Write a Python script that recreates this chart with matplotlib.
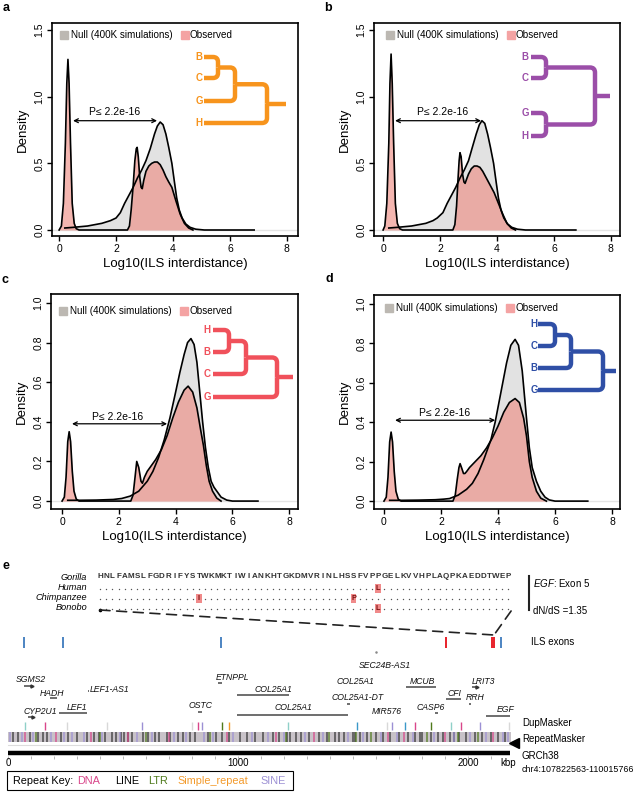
import numpy as np
import matplotlib.pyplot as plt
import matplotlib.transforms as mtransforms
from matplotlib.lines import Line2D
from matplotlib.path import Path
from matplotlib.patches import Rectangle, ConnectionPatch, PathPatch

plt.rcParams['font.family'] = ['Liberation Sans', 'DejaVu Sans']
plt.rcParams['mathtext.fontset'] = 'custom'
plt.rcParams['mathtext.it'] = 'Liberation Sans:italic'
plt.rcParams['mathtext.rm'] = 'Liberation Sans'

# ---------------- density curves ----------------
a_null_x = [0.2, 0.5, 1.0, 1.5, 1.8, 2.0, 2.15, 2.3, 2.45, 2.6, 2.75, 2.9, 3.05, 3.2, 3.35, 3.45, 3.55,
            3.65, 3.75, 3.85, 3.96, 4.05, 4.13, 4.22, 4.32, 4.45, 4.6, 4.8, 5.1, 6.85]
a_null_y = [0.015, 0.02, 0.03, 0.05, 0.07, 0.09, 0.13, 0.2, 0.26, 0.32, 0.39, 0.45, 0.52, 0.61, 0.72, 0.78, 0.81,
            0.79, 0.72, 0.62, 0.5, 0.36, 0.24, 0.15, 0.09, 0.045, 0.02, 0.006, 0.0, 0.0]
a_obs_x = [0.0, 0.08, 0.15, 0.22, 0.27, 0.31, 0.35, 0.4, 0.46, 0.53, 0.6, 0.7, 2.4, 2.47, 2.53, 2.6, 2.66,
           2.71, 2.74, 2.78, 2.83, 2.88, 2.92, 2.97, 3.05, 3.15, 3.25, 3.35, 3.45, 3.55, 3.65, 3.75, 3.85,
           3.96, 4.1, 4.25, 4.4, 4.55, 4.7]
a_obs_y = [0.0, 0.03, 0.2, 0.65, 1.1, 1.28, 1.1, 0.65, 0.2, 0.05, 0.01, 0.0, 0.0, 0.03, 0.15, 0.33, 0.52,
           0.61, 0.62, 0.55, 0.4, 0.32, 0.31, 0.37, 0.44, 0.48, 0.5, 0.51, 0.51, 0.49, 0.45, 0.4, 0.36,
           0.32, 0.22, 0.12, 0.05, 0.015, 0.0]

b_null_x = [0.2, 0.5, 1.0, 1.5, 1.75, 1.9, 2.1, 2.25, 2.4, 2.55, 2.7, 2.85, 3.0, 3.12, 3.27, 3.38, 3.47,
            3.57, 3.67, 3.77, 3.88, 3.97, 4.05, 4.14, 4.24, 4.37, 4.52, 4.72, 5.0, 6.77]
b_null_y = [0.015, 0.02, 0.03, 0.05, 0.07, 0.09, 0.13, 0.2, 0.26, 0.32, 0.39, 0.45, 0.52, 0.61, 0.72, 0.79, 0.82,
            0.8, 0.72, 0.62, 0.5, 0.36, 0.24, 0.15, 0.09, 0.045, 0.02, 0.006, 0.0, 0.0]
b_obs_x = [0.0, 0.06, 0.13, 0.2, 0.24, 0.28, 0.32, 0.37, 0.43, 0.5, 0.58, 0.68, 2.45, 2.52, 2.58, 2.63, 2.67,
           2.7, 2.74, 2.79, 2.84, 2.88, 2.93, 3.0, 3.1, 3.2, 3.3, 3.4, 3.5, 3.6, 3.7, 3.8, 3.9, 4.05,
           4.2, 4.35, 4.5, 4.65]
b_obs_y = [0.0, 0.03, 0.2, 0.65, 1.1, 1.32, 1.1, 0.65, 0.2, 0.05, 0.01, 0.0, 0.0, 0.04, 0.18, 0.38, 0.52,
           0.58, 0.55, 0.42, 0.36, 0.35, 0.38, 0.42, 0.46, 0.48, 0.48, 0.47, 0.44, 0.4, 0.36, 0.32, 0.28, 0.2,
           0.12, 0.05, 0.015, 0.0]

c_null_x = [0.2, 0.6, 1.2, 1.8, 2.1, 2.4, 2.7, 3.0, 3.2, 3.4, 3.6, 3.8, 4.0, 4.15, 4.3, 4.42, 4.54, 4.65,
            4.75, 4.85, 4.95, 5.05, 5.15, 5.25, 5.35, 5.45, 5.6, 5.8, 6.0, 6.9]
c_null_y = [0.004, 0.004, 0.005, 0.008, 0.013, 0.025, 0.05, 0.1, 0.15, 0.22, 0.31, 0.42, 0.55, 0.65, 0.74, 0.8,
            0.82, 0.79, 0.7, 0.55, 0.4, 0.27, 0.17, 0.1, 0.07, 0.05, 0.02, 0.005, 0.0, 0.0]
c_obs_x = [0.0, 0.08, 0.14, 0.2, 0.25, 0.3, 0.36, 0.42, 0.5, 0.6, 2.42, 2.5, 2.57, 2.63, 2.7, 2.78, 2.83,
           2.9, 3.0, 3.1, 3.3, 3.5, 3.7, 3.9, 4.1, 4.3, 4.44, 4.6, 4.75, 4.88, 4.98, 5.08, 5.18, 5.3,
           5.45, 5.6]
c_obs_y = [0.0, 0.02, 0.12, 0.3, 0.35, 0.3, 0.15, 0.05, 0.01, 0.0, 0.0, 0.03, 0.12, 0.2, 0.17, 0.1, 0.09,
           0.12, 0.15, 0.17, 0.21, 0.26, 0.33, 0.42, 0.5, 0.56, 0.58, 0.55, 0.47, 0.36, 0.28, 0.18, 0.1, 0.05,
           0.015, 0.0]

d_null_x = [0.2, 0.6, 1.2, 1.8, 2.1, 2.3, 2.6, 2.9, 3.1, 3.3, 3.5, 3.75, 3.9, 4.1, 4.3, 4.45, 4.6, 4.72,
            4.85, 5.0, 5.1, 5.2, 5.35, 5.5, 5.65, 5.8, 6.0, 7.15]
d_null_y = [0.004, 0.004, 0.005, 0.007, 0.01, 0.013, 0.03, 0.06, 0.09, 0.14, 0.21, 0.31, 0.4, 0.55, 0.7, 0.79,
            0.82, 0.79, 0.66, 0.42, 0.27, 0.17, 0.1, 0.05, 0.02, 0.006, 0.0, 0.0]
d_obs_x = [0.0, 0.08, 0.14, 0.2, 0.25, 0.3, 0.36, 0.42, 0.5, 0.6, 2.42, 2.5, 2.57, 2.63, 2.67, 2.72, 2.79,
           2.84, 2.9, 3.0, 3.2, 3.4, 3.6, 3.8, 4.0, 4.2, 4.4, 4.6, 4.75, 4.9, 5.0, 5.1, 5.2, 5.35, 5.5, 5.7]
d_obs_y = [0.0, 0.02, 0.12, 0.3, 0.35, 0.3, 0.15, 0.05, 0.01, 0.0, 0.0, 0.03, 0.11, 0.17, 0.19, 0.17, 0.14,
           0.14, 0.15, 0.17, 0.2, 0.23, 0.27, 0.32, 0.38, 0.45, 0.5, 0.52, 0.5, 0.42, 0.33, 0.2, 0.12, 0.05,
           0.015, 0.0]

# P-value arrows: (x start, x end, y)
a_arrow = (0.49, 3.44, 0.82)
b_arrow = (0.42, 3.44, 0.82)
c_arrow = (0.35, 3.7, 0.39)
d_arrow = (0.39, 3.9, 0.41)
p_label = "P\u2264 2.2e-16"

# trees (leaf order / topology)
a_tree = ((("B", "C", 218), "G", 235), "H", 267)
b_tree = (("B", "C", 546), ("G", "H", 546), 595)
c_tree = ((("H", "B", 229), "C", 246), "G", 277)
d_tree = ((("H", "C", 555), "B", 571), "G", 603)

# ---------------- panel e data ----------------
seq = "HNLFAMSLFGDRIFYSTWKMKTIWIANKHTGKDMVRINLHSSFVPPGELKVVHPLAQPKAEDDTWEP"
species = ["Gorilla", "Human", "Chimpanzee", "Bonobo"]
substitutions = {"Human": [(45, "L")], "Chimpanzee": [(16, "I"), (41, "P")], "Bonobo": [(45, "L")]}

ils_blue_kbp = [70, 239, 926, 2143]
ils_red_kbp = [1904, 2104, 2113]
egf_exon_kbp = 2113

gene_names = ["SGMS2", "HADH", "LEF1-AS1", "CYP2U1", "LEF1", "OSTC", "ETNPPL", "COL25A1", "COL25A1",
              "COL25A1", "COL25A1-DT", "SEC24B-AS1", "MIR576", "MCUB", "CASP6", "CFI", "LRIT3", "RRH", "EGF"]
gene_start = [70, 183, 346, 87, 222, 826, 913, 996, 996, 1472, 1474, 1598, 1659, 1730, 1857, 1904, 2017, 2004, 2078]
gene_end = [104, 213, 350, 109, 343, 843, 930, 1222, 1478, 1476, 1487, 1602, 1663, 1861, 1870, 1970, 2039, 2013, 2183]
gene_strand = ["+", "", "", "+", "", "", "", "", "", "", "", "", "", "", "", "", "+", "", ""]
gene_row = [686, 698, 691, 717, 713, 712, 683, 695, 715, 687, 704, 672, 717, 687, 713, 699, 687, 704, 716]
gene_label_kbp = [100, 191, 440, 139, 300, 839, 978, 1152, 1243, 1509, 1522, 1639, 1648, 1804, 1839, 1939,
                  2065, 2030, 2165]
gene_label_row = [680, 693, 690, 711, 707, 706, 677, 689, 708, 682, 698, 666, 711, 681, 708, 693, 681, 698, 710]

dup_kbp = [74, 161, 256, 430, 583, 800, 826, 843, 930, 961, 1217, 1517, 1648, 1670, 1726, 1770, 1839,
           1926, 1970, 2052, 2178]
dup_class = ["teal", "DNA", "grey", "grey", "SINE", "grey", "DNA", "SINE", "LTR", "Simple_repeat", "teal",
             "blue", "grey", "SINE", "blue", "DNA", "LTR", "teal", "DNA", "SINE", "grey"]

rm_LINE = [20, 45, 95, 130, 150, 170, 230, 262, 300, 345, 372, 395, 420, 450, 470, 490, 505, 520, 540, 585,
           610, 640, 655, 690, 705, 740, 760, 790, 815, 870, 905, 930, 960, 1010, 1040, 1075, 1110, 1150,
           1180, 1215, 1225, 1250, 1275, 1310, 1350, 1385, 1420, 1440, 1460, 1500, 1510, 1530, 1560, 1600,
           1630, 1660, 1700, 1740, 1770, 1790, 1800, 1840, 1870, 1890, 1920, 1940, 1960, 1990, 2030, 2060,
           2100, 2130, 2160]
rm_SINE = [10, 60, 110, 185, 245, 280, 330, 410, 485, 560, 625, 720, 775, 850, 890, 980, 1060, 1130, 1200,
           1290, 1370, 1480, 1545, 1620, 1690, 1760, 1850, 1940, 2010, 2080, 2150, 2175]
rm_LTR = [120, 400, 600, 880, 1210, 1395, 1515, 1580, 1820, 1955, 2045]
rm_DNA = [75, 210, 360, 520, 700, 950, 1165, 1330, 1650, 1720, 1900, 2110]
region_kbp = 2193.2
repeat_key = ["DNA", "LINE", "LTR", "Simple_repeat", "SINE"]

# ---------------- figure ----------------
W, H = 637, 793
fig = plt.figure(figsize=(W / 100, H / 100), dpi=100)
pix = mtransforms.Affine2D().scale(1 / W, -1 / H).translate(0, 1) + fig.transFigure

NULL_FILL = "#e2e2e2"
OBS_FILL = "#ee8a80"
rep_colors = {"DNA": "#d9468a", "LINE": "#333333", "LTR": "#4f7a1c", "Simple_repeat": "#f39a2b",
              "SINE": "#9c90d4", "teal": "#8fd0c8", "grey": "#d8d8d8", "blue": "#3a98c8"}


def add_px_axes(l, t, r, b):
    return fig.add_axes([l / W, 1 - b / H, (r - l) / W, (b - t) / H])


def elbow(cx, cy, nx, ny, color, rad=5):
    d = 1 if ny > cy else -1
    rr = min(rad, abs(ny - cy), abs(nx - cx))
    verts = [(cx, cy), (nx - rr, cy), (nx, cy), (nx, cy + d * rr), (nx, ny)]
    codes = [Path.MOVETO, Path.LINETO, Path.CURVE3, Path.CURVE3, Path.LINETO]
    fig.add_artist(PathPatch(Path(verts, codes), transform=pix, fill=False, ec=color, lw=3.2,
                             capstyle="butt", joinstyle="round"))


def draw_tree(tree, leaf_y, x0, x_lab, stub_end, color):
    def walk(node):
        if isinstance(node, str):
            fig.text(x_lab, leaf_y[node], node, transform=pix, color=color, fontsize=7,
                     fontweight="bold", ha="center", va="center")
            return x0, leaf_y[node]
        left, right, nx = node
        kids = [walk(left), walk(right)]
        mid = (kids[0][1] + kids[1][1]) / 2
        for cx, cy in kids:
            elbow(cx, cy, nx, mid, color)
        return nx, mid
    rx, ry = walk(tree)
    fig.add_artist(Line2D([rx - 1.5, stub_end], [ry, ry], transform=pix, color=color, lw=3.2,
                          solid_capstyle="butt"))


panels = [
    dict(tag="a", rect=(52, 23, 298, 236), xlim=(-0.25, 8.39), ylim=(-0.045, 1.553),
         yticks=[0, 0.5, 1.0, 1.5], nx=a_null_x, ny=a_null_y, ox=a_obs_x, oy=a_obs_y, arrow=a_arrow,
         ptext=(1.93, 0.885), leg=(60, 35), lab=(6, 8), tree=a_tree, color="#f7941d",
         leaves={"B": 57, "C": 78, "G": 101, "H": 123}, tx=(204, 199, 286)),
    dict(tag="b", rect=(374, 23, 620, 236), xlim=(-0.32, 8.32), ylim=(-0.045, 1.553),
         yticks=[0, 0.5, 1.0, 1.5], nx=b_null_x, ny=b_null_y, ox=b_obs_x, oy=b_obs_y, arrow=b_arrow,
         ptext=(2.1, 0.885), leg=(386, 35), lab=(328, 8), tree=b_tree, color="#9b4ea8",
         leaves={"B": 57, "C": 78, "G": 113, "H": 136}, tx=(531, 525, 610)),
    dict(tag="c", rect=(51, 294, 298, 509), xlim=(-0.39, 8.31), ylim=(-0.04, 1.045),
         yticks=[0, 0.2, 0.4, 0.6, 0.8, 1.0], nx=c_null_x, ny=c_null_y, ox=c_obs_x, oy=c_obs_y,
         arrow=c_arrow, ptext=(1.97, 0.425), leg=(59, 311), lab=(5, 280), tree=c_tree, color="#f0515b",
         leaves={"H": 330, "B": 352, "C": 374, "G": 397}, tx=(213, 207, 293)),
    dict(tag="d", rect=(374, 295, 620, 509), xlim=(-0.35, 8.28), ylim=(-0.04, 1.045),
         yticks=[0, 0.2, 0.4, 0.6, 0.8, 1.0], nx=d_null_x, ny=d_null_y, ox=d_obs_x, oy=d_obs_y,
         arrow=d_arrow, ptext=(2.14, 0.445), leg=(385, 308), lab=(329, 279), tree=d_tree, color="#2f4fa6",
         leaves={"H": 324, "C": 346, "B": 368, "G": 390}, tx=(538, 534, 616)),
]

for p in panels:
    ax = add_px_axes(*p["rect"])
    ax.set_xlim(*p["xlim"])
    ax.set_ylim(*p["ylim"])
    ax.axhline(0, color="#e4e4e4", lw=1, zorder=0)
    ax.fill_between(p["nx"], p["ny"], 0, color=NULL_FILL, lw=0, zorder=1)
    ax.fill_between(p["ox"], p["oy"], 0, color=OBS_FILL, alpha=0.62, lw=0, zorder=2)
    ax.plot(p["nx"], p["ny"], color="black", lw=1.2, zorder=3)
    ax.plot(p["ox"], p["oy"], color="black", lw=1.2, zorder=4)
    x0, x1, yy = p["arrow"]
    ax.annotate("", xy=(x1, yy), xytext=(x0, yy),
                arrowprops=dict(arrowstyle="<->", color="black", lw=0.9, shrinkA=0, shrinkB=0,
                                mutation_scale=7))
    ax.text(p["ptext"][0], p["ptext"][1], p_label, fontsize=7.5, ha="center", va="center")
    ax.set_xticks([0, 2, 4, 6, 8])
    ax.set_yticks(p["yticks"])
    ax.set_yticklabels(["%.1f" % v for v in p["yticks"]], rotation=90, va="center")
    ax.tick_params(direction="out", length=3.5, width=1, labelsize=7.5, pad=2)
    for s in ax.spines.values():
        s.set_linewidth(1.2)
    ax.set_xlabel("Log10(ILS interdistance)", fontsize=9.5, labelpad=3)
    ax.set_ylabel("Density", fontsize=9.5, labelpad=4)
    # legend
    lx, ly = p["leg"]
    fig.add_artist(Rectangle((lx, ly - 4), 8, 8, transform=pix, color="#bcb8b2"))
    fig.text(lx + 11, ly, "Null (400K simulations)", transform=pix, fontsize=7.1, va="center")
    fig.add_artist(Rectangle((lx + 121, ly - 4), 8, 8, transform=pix, color="#f4a3a3"))
    fig.text(lx + 130, ly, "Observed", transform=pix, fontsize=7.1, va="center")
    fig.text(p["lab"][0], p["lab"][1], p["tag"], transform=pix, fontsize=9, fontweight="bold",
             ha="center", va="center")
    x_start, x_lab, stub = p["tx"]
    draw_tree(p["tree"], p["leaves"], x_start, x_lab, stub, p["color"])

# ---------------- panel e ----------------
fig.text(6, 566, "e", transform=pix, fontsize=9, fontweight="bold", ha="center", va="center")

ax_seq = fig.add_axes([0, 0, 1, 233 / H])
ax_seq.set_xlim(-100 / 6.1818, (W - 100) / 6.1818)
ax_seq.set_ylim(H, 560)
ax_seq.axis("off")

row_y = {"Gorilla": 577, "Human": 588, "Chimpanzee": 598, "Bonobo": 608}
for sp in species:
    fig.text(87, row_y[sp], sp, transform=pix, fontsize=6.6, style="italic", ha="right", va="center")
idx = np.arange(len(seq))
for i, aa in enumerate(seq):
    ax_seq.text(i, row_y["Gorilla"], aa, fontsize=5.8, fontweight="bold", color="#333333",
                ha="center", va="center")
for sp in species[1:]:
    changed = dict(substitutions.get(sp, []))
    keep = [i for i in idx if i not in changed]
    ax_seq.scatter(keep, [row_y[sp] + 1] * len(keep), s=1.0, color="#555555", lw=0)
    for i, aa in changed.items():
        ax_seq.add_patch(Rectangle((i - 0.45, row_y[sp] - 4.5), 0.9, 9, color="#f08a8a", lw=0))
        ax_seq.text(i, row_y[sp], aa, fontsize=5.2, fontweight="bold", color="#7a1010",
                    ha="center", va="center")
ax_seq.plot([0], [row_y["Bonobo"] + 2], marker="o", ms=1.6, color="black")

fig.add_artist(Line2D([529, 529], [576, 610], transform=pix, color="#222222", lw=1.5))
fig.text(533, 583, r"$\mathit{EGF}$: Exon 5", transform=pix, fontsize=7, va="center")
fig.text(533, 611, "dN/dS =1.35", transform=pix, fontsize=7, va="center")
fig.text(531, 642, "ILS exons", transform=pix, fontsize=7, va="center")

ax_gen = fig.add_axes([0, 0, 1, 233 / H])
ax_gen.set_xlim(-8 / 0.23, (W - 8) / 0.23)
ax_gen.set_ylim(H, 560)
ax_gen.axis("off")
ax_gen.patch.set_alpha(0)

for xa, ya in [(0, 610), (66.5, 611)]:
    con = ConnectionPatch(xyA=(xa, ya), coordsA=ax_seq.transData, xyB=(egf_exon_kbp, 635),
                          coordsB=ax_gen.transData, color="#222222", lw=1.2, linestyle=(0, (6, 4)))
    fig.add_artist(con)

ax_gen.vlines(ils_blue_kbp, 637, 648, color="#2d6fb8", lw=1.2)
ax_gen.vlines(ils_red_kbp, 637, 648, color="#e8202a", lw=1.4)

# genes
for name, s, e, st, r, lx, lr in zip(gene_names, gene_start, gene_end, gene_strand, gene_row,
                                      gene_label_kbp, gene_label_row):
    ax_gen.plot([s, e], [r, r], color="#555555", lw=1.2, solid_capstyle="butt")
    if st == "+":
        ax_gen.plot([e], [r], marker=">", ms=2.2, color="#333333")
    ax_gen.text(lx, lr, name, fontsize=6.2, style="italic", ha="center", va="center", color="#111111")
ax_gen.plot([1600], [652], marker="o", ms=0.8, color="#888888")

# DupMasker
ax_gen.vlines(dup_kbp, 722, 730, colors=[rep_colors[c] for c in dup_class], lw=1.0)
# RepeatMasker
ax_gen.add_patch(Rectangle((0, 732), region_kbp - 8, 10, color="#c8c2c8", lw=0))
for cls, pos in [("LINE", rm_LINE), ("SINE", rm_SINE), ("LTR", rm_LTR), ("DNA", rm_DNA)]:
    ax_gen.vlines(pos, 732, 742, color=rep_colors[cls], lw=1.3, alpha=0.7)
ax_gen.plot([0, region_kbp - 8], [745, 745], color="#dddddd", lw=0.8)
# scale bar
ax_gen.plot([0, region_kbp - 10], [753, 753], color="black", lw=3.2, solid_capstyle="butt")
ax_gen.plot([region_kbp + 8], [743], marker="<", ms=7, color="black")
ax_gen.vlines(np.arange(0, 2200, 100), 755.5, 758.5, color="#aaaaaa", lw=0.6)
for t in [0, 1000, 2000]:
    ax_gen.text(t, 763, str(t), fontsize=7, ha="center", va="center")
ax_gen.text(2176, 763, "kbp", fontsize=7, ha="center", va="center")

for txt, y, fs in [("DupMasker", 723, 7.0), ("RepeatMasker", 739, 7.0), ("GRCh38", 756, 7.0),
                   ("chr4:107822563-110015766", 769, 6.4)]:
    fig.text(522, y, txt, transform=pix, fontsize=fs, va="center")

# repeat key
fig.add_artist(Rectangle((7, 771), 286, 19, transform=pix, fill=False, ec="black", lw=0.8))
fig.text(13, 781, "Repeat Key:", transform=pix, fontsize=7.8, va="center")
for name, x in zip(repeat_key, [77, 115, 148, 177, 260]):
    fig.text(x, 781, name, transform=pix, fontsize=7.8, va="center",
             color=rep_colors[name] if name != "LINE" else "black")

fig.savefig("out.png", dpi=100)
